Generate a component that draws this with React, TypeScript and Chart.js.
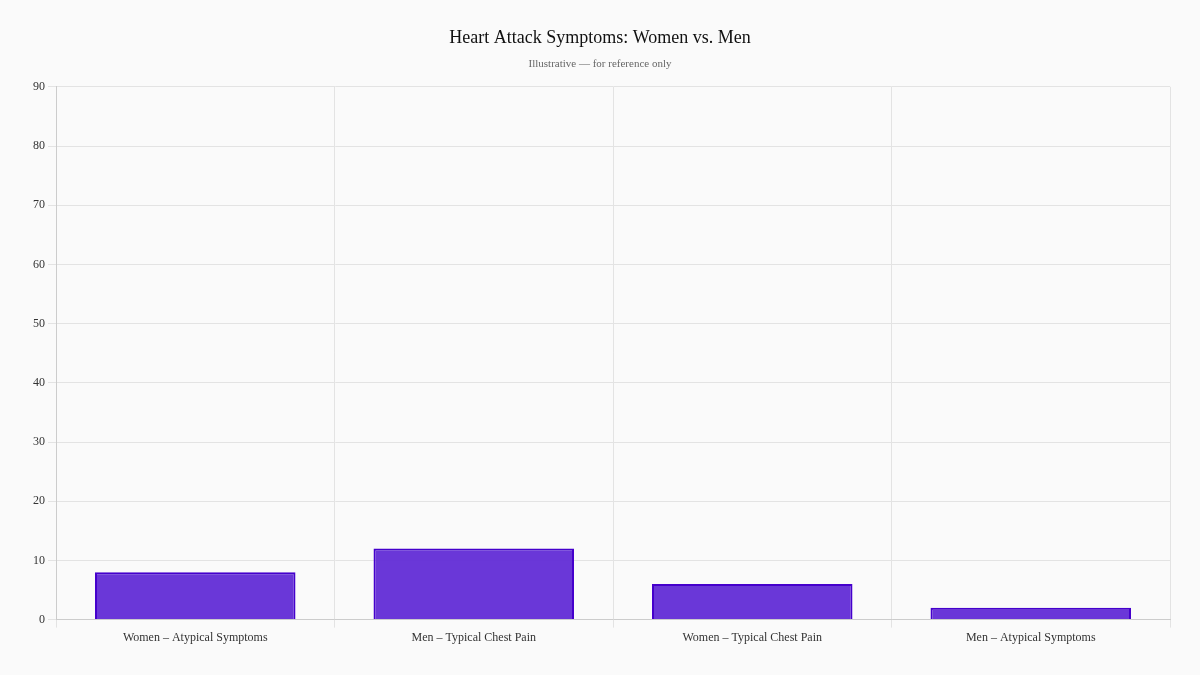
import { useEffect, useRef } from 'react'
import { Chart, registerables } from 'chart.js'

Chart.register(...registerables)

const categories = [
  'Women – Atypical Symptoms',
  'Men – Typical Chest Pain',
  'Women – Typical Chest Pain',
  'Men – Atypical Symptoms'
]
const values = [8, 12, 6, 2]

const FONT = '"Liberation Serif", "Times New Roman", serif'

export default function App() {
  const canvasRef = useRef<HTMLCanvasElement | null>(null)

  useEffect(() => {
    if (!canvasRef.current) return
    document.body.style.margin = '0'
    document.body.style.background = '#fafafa'

    const chart = new Chart(canvasRef.current, {
      type: 'bar',
      data: {
        labels: categories,
        datasets: [
          {
            label: 'Share',
            data: values,
            backgroundColor: 'rgba(98, 44, 214, 0.95)',
            borderColor: '#4500cc',
            borderWidth: 2
          }
        ]
      },
      options: {
        responsive: false,
        animation: false,
        layout: { padding: { left: 30, right: 30, top: 23, bottom: 27 } },
        plugins: {
          legend: { display: false },
          tooltip: { enabled: false },
          title: {
            display: true,
            text: 'Heart Attack Symptoms: Women vs. Men',
            color: '#111',
            font: { family: FONT, size: 18, weight: 'normal' },
            padding: { top: 4, bottom: 9 }
          },
          subtitle: {
            display: true,
            text: 'Illustrative — for reference only',
            color: '#666',
            font: { family: FONT, size: 11 },
            padding: { bottom: 16 }
          }
        },
        scales: {
          x: {
            grid: { color: '#e3e3e3', tickLength: 8 },
            border: { color: '#cccccc' },
            ticks: { color: '#333', font: { family: FONT, size: 12 }, padding: 3 }
          },
          y: {
            min: 0,
            max: 90,
            ticks: { stepSize: 10, color: '#333', font: { family: FONT, size: 12 }, padding: 3 },
            grid: { color: '#e3e3e3', tickLength: 8 },
            border: { color: '#cccccc' }
          }
        }
      }
    })

    return () => chart.destroy()
  }, [])

  return (
    <div style={{ width: 1200, height: 675, background: '#fafafa' }}>
      <canvas ref={canvasRef} width={1200} height={675} />
    </div>
  )
}
